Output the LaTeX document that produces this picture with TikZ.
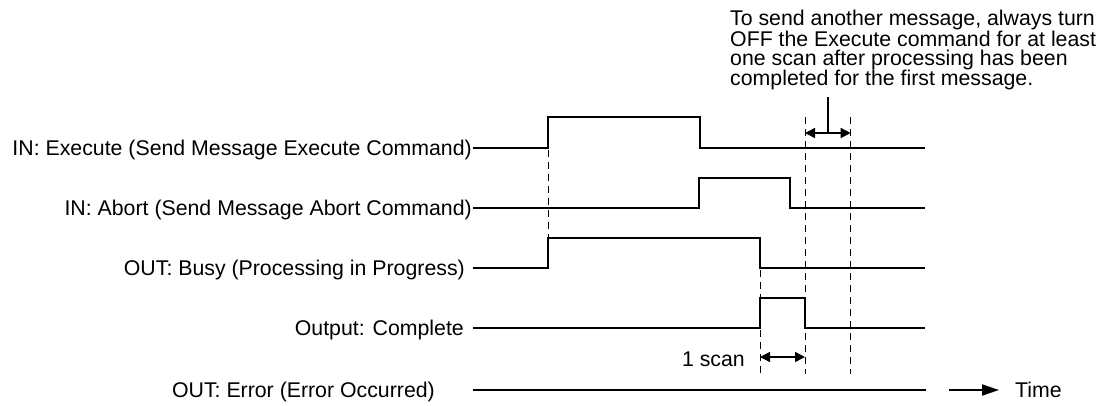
\documentclass[tikz,border=0pt]{standalone}
\usepackage{fontspec}
\setmainfont{Liberation Sans}
\usetikzlibrary{arrows.meta}
\begin{document}
\begin{tikzpicture}[x=1pt,y=-1pt,
  txt/.style={inner sep=0pt,font=\fontsize{21.3}{18.6}\selectfont},
  lbl/.style={txt,anchor=base east},
  wave/.style={line width=1.3pt,line join=miter},
  guide/.style={line width=1pt,dash pattern=on 7pt off 5pt},
  dimarrow/.style={line width=1.5pt,{Triangle[length=10pt,width=10pt]}-{Triangle[length=10pt,width=10pt]}},
  timearrow/.style={line width=2pt,-{Triangle[length=17pt,width=11pt]}}]
\useasboundingbox (0,0) rectangle (1104,405);
% labels
\node[lbl] (lexe) at (472,155.5) {IN: Execute (Send Message Execute Command)};
\node[lbl] (labt) at (472,215.5) {IN: Abort (Send Message Abort Command)};
\node[lbl] (lbsy) at (465,275.5) {OUT: Busy (Processing in Progress)};
\node[lbl] (lcmp) at (464,335.5) {Output: Complete};
\node[lbl] (lerr) at (435,397.5) {OUT: Error (Error Occurred)};
% waveforms
\draw[wave] (473,148) -- (548,148) -- (548,117) -- (700,117) -- (700,148) -- (925,148);
\draw[wave] (473,208) -- (699,208) -- (699,178) -- (790,178) -- (790,208) -- (925,208);
\draw[wave] (473,268) -- (548,268) -- (548,238) -- (760,238) -- (760,268) -- (925,268);
\draw[wave] (473,328) -- (760,328) -- (760,298) -- (805,298) -- (805,328) -- (925,328);
\draw[wave] (473,390) -- (926,390);
% guides
\draw[guide] (548,150) -- (548,268);
\draw[guide] (760,270) -- (760,374);
\draw[guide] (805,117) -- (805,374);
\draw[guide] (850.7,117) -- (850.7,374);
% note
\node[txt,anchor=north west,align=left] (note) at (730,10) {To send another message, always turn\\OFF the Execute command for at least\\one scan after processing has been\\completed for the first message.};
\coordinate (dA) at (805,133);
\coordinate (dB) at (850.7,133);
\coordinate (ptr) at (828,97);
\draw[dimarrow] (dA) -- (dB);
\draw[line width=1.3pt] (ptr) -- (ptr |- dA);
% 1 scan
\coordinate (sA) at (760,357);
\coordinate (sB) at (805,357);
\draw[dimarrow] (sA) -- (sB);
\node[lbl] (scan) at (745,366.5) {1 scan};
% time
\coordinate (tA) at (949,390);
\coordinate (tB) at (999,390);
\draw[timearrow] (tA) -- (tB);
\node[txt,anchor=base west] (time) at (1015,397.5) {Time};
\end{tikzpicture}
\end{document}
